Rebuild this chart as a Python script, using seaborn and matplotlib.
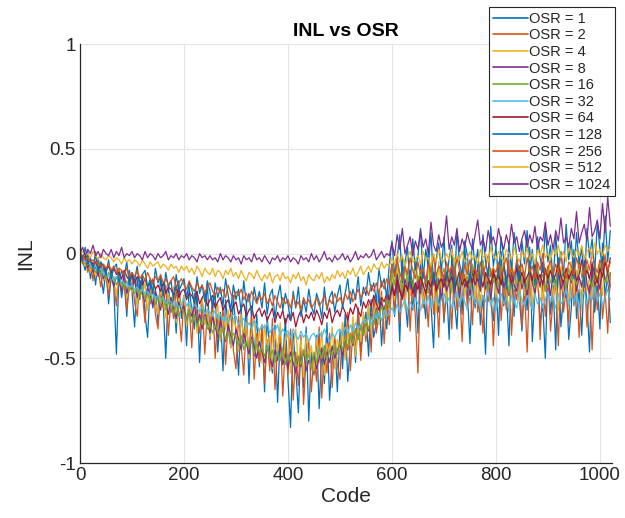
import numpy as np
import pandas as pd
import matplotlib
matplotlib.use("Agg")
import matplotlib.pyplot as plt
import seaborn as sns

# codes 0, 5, ..., 1020 (one every 5 codes)
codes = list(range(0, 1025, 5))

osr_labels = ['OSR = 1', 'OSR = 2', 'OSR = 4', 'OSR = 8', 'OSR = 16', 'OSR = 32',
              'OSR = 64', 'OSR = 128', 'OSR = 256', 'OSR = 512', 'OSR = 1024']

inl_osr1 = [0.02, -0.03, -0.08, 0.01, -0.12, -0.05, -0.15, -0.02, -0.10, -0.19,
            -0.07, -0.24, -0.11, -0.16, -0.48, -0.09, -0.21, -0.13, -0.30, -0.08,
            -0.18, -0.35, -0.12, -0.22, -0.10, -0.29, -0.40, -0.14, -0.26, -0.17,
            -0.33, -0.11, -0.24, -0.50, -0.15, -0.28, -0.19, -0.38, -0.13, -0.31,
            -0.21, -0.44, -0.16, -0.27, -0.36, -0.18, -0.52, -0.23, -0.30, -0.14,
            -0.41, -0.25, -0.19, -0.47, -0.28, -0.56, -0.22, -0.35, -0.45, -0.20,
            -0.38, -0.58, -0.27, -0.43, -0.24, -0.62, -0.33, -0.49, -0.29, -0.54,
            -0.36, -0.66, -0.30, -0.47, -0.57, -0.34, -0.71, -0.40, -0.52, -0.31,
            -0.60, -0.83, -0.38, -0.55, -0.76, -0.42, -0.64, -0.35, -0.80, -0.47,
            -0.58, -0.39, -0.74, -0.46, -0.62, -0.33, -0.70, -0.51, -0.41, -0.66,
            -0.37, -0.55, -0.29, -0.61, -0.43, -0.32, -0.52, -0.26, -0.47, -0.35,
            -0.28, -0.49, -0.22, -0.40, -0.33, -0.18, -0.44, -0.25, -0.36, -0.15,
            -0.05, -0.30, -0.12, -0.42, -0.02, -0.21, -0.35, -0.08, -0.27, -0.14,
            -0.38, -0.04, -0.19, -0.31, 0.02, -0.24, -0.45, -0.10, -0.28, -0.06,
            -0.33, -0.15, -0.41, -0.01, -0.22, -0.36, -0.09, -0.29, 0.04, -0.18,
            -0.43, -0.12, -0.26, -0.05, -0.34, -0.20, -0.48, -0.07, -0.23, -0.32,
            -0.11, -0.39, 0.01, -0.25, -0.16, -0.44, -0.08, -0.30, -0.03, -0.21,
            -0.37, -0.13, -0.27, 0.03, -0.42, -0.18, -0.09, -0.33, -0.24, -0.50,
            -0.06, -0.29, -0.15, -0.46, -0.02, -0.35, -0.20, -0.11, -0.41, -0.26,
            0.02, -0.31, -0.17, -0.39, -0.08, -0.23, -0.47, -0.04, -0.28, -0.13,
            -0.36, 0.05, -0.21, -0.10, -0.33]
inl_osr2 = [0.00, -0.05, -0.02, -0.09, -0.04, -0.13, 0.01, -0.08, -0.16, -0.06,
            -0.11, -0.20, -0.09, -0.14, -0.25, -0.07, -0.18, -0.12, -0.27, -0.15,
            -0.10, -0.23, -0.30, -0.13, -0.19, -0.33, -0.16, -0.24, -0.12, -0.29,
            -0.36, -0.18, -0.26, -0.15, -0.39, -0.21, -0.31, -0.17, -0.28, -0.42,
            -0.20, -0.34, -0.25, -0.45, -0.19, -0.30, -0.38, -0.23, -0.48, -0.27,
            -0.35, -0.22, -0.50, -0.29, -0.41, -0.25, -0.53, -0.33, -0.28, -0.46,
            -0.55, -0.30, -0.44, -0.58, -0.32, -0.49, -0.27, -0.60, -0.38, -0.52,
            -0.34, -0.62, -0.41, -0.56, -0.31, -0.65, -0.45, -0.37, -0.68, -0.43,
            -0.58, -0.36, -0.70, -0.47, -0.63, -0.39, -0.72, -0.50, -0.42, -0.66,
            -0.48, -0.61, -0.35, -0.69, -0.44, -0.57, -0.38, -0.64, -0.40, -0.53,
            -0.60, -0.33, -0.49, -0.28, -0.56, -0.37, -0.45, -0.26, -0.51, -0.31,
            -0.42, -0.24, -0.47, -0.20, -0.38, -0.29, -0.18, -0.43, -0.22, -0.34,
            -0.12, -0.28, -0.06, -0.33, -0.15, -0.24, -0.09, -0.37, -0.13, -0.30,
            -0.57, -0.10, -0.26, -0.17, -0.35, -0.05, -0.29, -0.14, -0.40, -0.08,
            -0.31, -0.19, -0.11, -0.36, -0.07, -0.27, -0.16, -0.42, -0.10, -0.25,
            -0.14, -0.34, -0.04, -0.28, -0.20, -0.38, -0.09, -0.23, -0.13, -0.44,
            -0.18, -0.06, -0.32, -0.12, -0.27, -0.03, -0.39, -0.15, -0.22, -0.08,
            -0.35, -0.16, -0.47, -0.10, -0.26, -0.19, -0.05, -0.41, -0.13, -0.30,
            -0.09, -0.37, -0.21, -0.14, -0.44, -0.07, -0.28, -0.17, -0.33, -0.04,
            -0.25, -0.12, -0.40, -0.19, -0.08, -0.35, -0.15, -0.46, -0.11, -0.27,
            -0.06, -0.31, -0.18, -0.38, -0.09]
inl_osr4 = [0.01, -0.03, -0.06, -0.02, -0.09, -0.05, -0.11, -0.08, -0.04, -0.13,
            -0.10, -0.16, -0.07, -0.14, -0.19, -0.11, -0.17, -0.09, -0.21, -0.13,
            -0.18, -0.12, -0.24, -0.16, -0.20, -0.14, -0.27, -0.19, -0.15, -0.23,
            -0.29, -0.17, -0.22, -0.31, -0.19, -0.26, -0.16, -0.33, -0.21, -0.25,
            -0.20, -0.35, -0.24, -0.29, -0.22, -0.38, -0.27, -0.21, -0.34, -0.26,
            -0.40, -0.28, -0.33, -0.24, -0.42, -0.30, -0.36, -0.27, -0.45, -0.31,
            -0.35, -0.47, -0.29, -0.41, -0.33, -0.50, -0.38, -0.31, -0.46, -0.36,
            -0.52, -0.34, -0.44, -0.39, -0.55, -0.37, -0.48, -0.33, -0.53, -0.42,
            -0.38, -0.57, -0.45, -0.36, -0.54, -0.41, -0.59, -0.39, -0.50, -0.44,
            -0.56, -0.40, -0.52, -0.37, -0.58, -0.43, -0.48, -0.35, -0.55, -0.41,
            -0.46, -0.33, -0.51, -0.38, -0.44, -0.30, -0.49, -0.35, -0.42, -0.28,
            -0.39, -0.25, -0.36, -0.29, -0.22, -0.34, -0.20, -0.31, -0.18, -0.27,
            -0.10, -0.22, -0.05, -0.18, -0.12, -0.26, -0.07, -0.20, -0.14, -0.03,
            -0.19, -0.09, -0.24, -0.13, -0.06, -0.21, -0.11, -0.28, -0.04, -0.17,
            -0.12, -0.23, -0.07, -0.19, -0.02, -0.15, -0.25, -0.10, -0.20, -0.05,
            -0.16, -0.08, -0.22, -0.13, -0.27, -0.04, -0.18, -0.11, -0.24, -0.06,
            -0.21, -0.10, -0.15, -0.01, -0.19, -0.26, -0.08, -0.17, -0.12, -0.23,
            -0.05, -0.20, -0.14, -0.09, -0.25, -0.03, -0.18, -0.11, -0.22, -0.07,
            -0.16, -0.02, -0.21, -0.12, -0.27, -0.06, -0.17, -0.10, -0.23, -0.04,
            -0.19, -0.08, -0.14, -0.24, -0.01, -0.18, -0.11, -0.22, -0.05, -0.15,
            -0.09, -0.20, 0.00, -0.13, -0.17]
inl_osr8 = [0.00, -0.04, -0.02, -0.07, -0.03, -0.09, -0.06, -0.11, -0.05, -0.12,
            -0.09, -0.14, -0.08, -0.16, -0.11, -0.13, -0.18, -0.10, -0.19, -0.14,
            -0.17, -0.12, -0.21, -0.15, -0.19, -0.23, -0.16, -0.20, -0.25, -0.18,
            -0.22, -0.27, -0.19, -0.24, -0.29, -0.21, -0.26, -0.31, -0.23, -0.28,
            -0.25, -0.32, -0.27, -0.30, -0.24, -0.34, -0.29, -0.36, -0.28, -0.33,
            -0.38, -0.30, -0.35, -0.40, -0.32, -0.37, -0.42, -0.34, -0.39, -0.44,
            -0.36, -0.41, -0.46, -0.38, -0.43, -0.48, -0.40, -0.45, -0.50, -0.42,
            -0.47, -0.52, -0.44, -0.49, -0.54, -0.46, -0.51, -0.43, -0.53, -0.48,
            -0.55, -0.47, -0.52, -0.57, -0.49, -0.54, -0.46, -0.56, -0.51, -0.53,
            -0.48, -0.55, -0.50, -0.45, -0.53, -0.47, -0.52, -0.44, -0.50, -0.46,
            -0.43, -0.49, -0.40, -0.46, -0.38, -0.44, -0.36, -0.41, -0.34, -0.39,
            -0.32, -0.37, -0.29, -0.34, -0.26, -0.31, -0.23, -0.28, -0.21, -0.25,
            -0.14, -0.20, -0.10, -0.17, -0.22, -0.12, -0.18, -0.08, -0.15, -0.21,
            -0.11, -0.19, -0.07, -0.16, -0.13, -0.20, -0.09, -0.17, -0.12, -0.22,
            -0.10, -0.18, -0.14, -0.06, -0.19, -0.12, -0.21, -0.09, -0.16, -0.13,
            -0.20, -0.08, -0.15, -0.11, -0.18, -0.05, -0.17, -0.13, -0.22, -0.10,
            -0.14, -0.19, -0.07, -0.16, -0.12, -0.20, -0.09, -0.15, -0.18, -0.06,
            -0.17, -0.11, -0.21, -0.08, -0.14, -0.19, -0.10, -0.16, -0.04, -0.18,
            -0.12, -0.20, -0.09, -0.15, -0.07, -0.17, -0.13, -0.21, -0.10, -0.14,
            -0.06, -0.18, -0.11, -0.16, -0.03, -0.14, -0.19, -0.08, -0.15, -0.12,
            -0.17, -0.05, -0.13, -0.09, -0.16]
inl_osr16 = [0.00, -0.03, -0.05, -0.02, -0.07, -0.06, -0.09, -0.05, -0.10, -0.08,
             -0.12, -0.09, -0.13, -0.11, -0.15, -0.12, -0.14, -0.17, -0.13, -0.18,
             -0.15, -0.19, -0.17, -0.21, -0.16, -0.22, -0.19, -0.23, -0.18, -0.24,
             -0.21, -0.25, -0.20, -0.27, -0.23, -0.26, -0.29, -0.24, -0.30, -0.26,
             -0.28, -0.32, -0.27, -0.33, -0.29, -0.35, -0.31, -0.34, -0.30, -0.36,
             -0.33, -0.38, -0.34, -0.37, -0.40, -0.35, -0.41, -0.37, -0.43, -0.38,
             -0.40, -0.44, -0.39, -0.46, -0.42, -0.45, -0.41, -0.48, -0.43, -0.47,
             -0.45, -0.49, -0.44, -0.50, -0.46, -0.52, -0.47, -0.51, -0.45, -0.53,
             -0.48, -0.52, -0.47, -0.54, -0.49, -0.53, -0.46, -0.51, -0.48, -0.55,
             -0.47, -0.52, -0.45, -0.50, -0.44, -0.51, -0.46, -0.49, -0.43, -0.48,
             -0.42, -0.46, -0.40, -0.45, -0.38, -0.43, -0.36, -0.41, -0.34, -0.39,
             -0.32, -0.36, -0.30, -0.34, -0.27, -0.31, -0.25, -0.29, -0.22, -0.26,
             -0.08, -0.15, -0.02, -0.12, -0.18, -0.06, -0.14, -0.10, -0.17, -0.04,
             -0.13, -0.08, -0.16, -0.11, -0.19, -0.05, -0.14, -0.09, -0.17, -0.12,
             -0.07, -0.15, -0.10, -0.18, -0.06, -0.13, -0.16, -0.08, -0.14, -0.11,
             -0.17, -0.05, -0.12, -0.09, -0.15, -0.03, -0.13, -0.18, -0.07, -0.14,
             -0.10, -0.16, -0.06, -0.13, -0.11, -0.19, -0.04, -0.12, -0.15, -0.08,
             -0.14, -0.09, -0.17, -0.05, -0.12, -0.16, -0.07, -0.13, -0.10, -0.18,
             -0.06, -0.14, -0.11, -0.16, -0.04, -0.12, -0.09, -0.17, -0.07, -0.13,
             -0.10, -0.15, -0.03, -0.11, -0.14, -0.06, -0.12, -0.16, -0.08, -0.13,
             -0.05, -0.11, -0.14, -0.07, -0.12]
inl_osr32 = [0.00, -0.02, -0.04, -0.03, -0.05, -0.07, -0.06, -0.08, -0.07, -0.10,
             -0.09, -0.11, -0.10, -0.13, -0.11, -0.14, -0.12, -0.15, -0.14, -0.16,
             -0.15, -0.17, -0.16, -0.18, -0.17, -0.19, -0.18, -0.20, -0.19, -0.21,
             -0.20, -0.22, -0.21, -0.24, -0.22, -0.23, -0.25, -0.23, -0.26, -0.24,
             -0.21, -0.25, -0.23, -0.27, -0.24, -0.26, -0.28, -0.25, -0.29, -0.27,
             -0.28, -0.30, -0.27, -0.31, -0.29, -0.32, -0.30, -0.33, -0.31, -0.29,
             -0.30, -0.34, -0.32, -0.31, -0.35, -0.33, -0.36, -0.32, -0.34, -0.37,
             -0.34, -0.36, -0.33, -0.38, -0.35, -0.37, -0.34, -0.39, -0.36, -0.38,
             -0.37, -0.40, -0.36, -0.39, -0.41, -0.37, -0.40, -0.38, -0.42, -0.39,
             -0.38, -0.41, -0.37, -0.40, -0.36, -0.39, -0.42, -0.38, -0.40, -0.37,
             -0.36, -0.39, -0.35, -0.38, -0.34, -0.37, -0.33, -0.36, -0.34, -0.32,
             -0.33, -0.30, -0.34, -0.29, -0.31, -0.28, -0.32, -0.27, -0.30, -0.28,
             -0.26, -0.29, -0.24, -0.28, -0.25, -0.22, -0.27, -0.23, -0.26, -0.21,
             -0.24, -0.27, -0.22, -0.25, -0.20, -0.26, -0.23, -0.21, -0.25, -0.22,
             -0.19, -0.24, -0.21, -0.26, -0.22, -0.18, -0.25, -0.20, -0.23, -0.27,
             -0.21, -0.19, -0.24, -0.22, -0.26, -0.20, -0.23, -0.18, -0.25, -0.21,
             -0.27, -0.22, -0.19, -0.24, -0.21, -0.28, -0.20, -0.23, -0.26, -0.18,
             -0.22, -0.25, -0.20, -0.23, -0.27, -0.19, -0.24, -0.21, -0.26, -0.22,
             -0.18, -0.23, -0.21, -0.26, -0.19, -0.24, -0.22, -0.17, -0.25, -0.20,
             -0.23, -0.19, -0.26, -0.21, -0.18, -0.24, -0.20, -0.22, -0.16, -0.23,
             -0.19, -0.25, -0.21, -0.17, -0.22]
inl_osr64 = [0.00, -0.02, -0.01, -0.04, -0.03, -0.05, -0.04, -0.07, -0.05, -0.06,
             -0.08, -0.06, -0.09, -0.07, -0.10, -0.09, -0.12, -0.08, -0.11, -0.13,
             -0.10, -0.14, -0.11, -0.13, -0.15, -0.12, -0.16, -0.14, -0.13, -0.17,
             -0.15, -0.18, -0.14, -0.19, -0.16, -0.17, -0.20, -0.15, -0.21, -0.18,
             -0.17, -0.22, -0.19, -0.20, -0.23, -0.18, -0.24, -0.21, -0.19, -0.25,
             -0.22, -0.20, -0.26, -0.23, -0.21, -0.27, -0.24, -0.22, -0.28, -0.25,
             -0.23, -0.29, -0.26, -0.24, -0.30, -0.27, -0.25, -0.31, -0.28, -0.26,
             -0.30, -0.27, -0.32, -0.29, -0.26, -0.33, -0.28, -0.31, -0.27, -0.34,
             -0.29, -0.32, -0.28, -0.35, -0.30, -0.27, -0.33, -0.29, -0.31, -0.28,
             -0.32, -0.27, -0.30, -0.34, -0.28, -0.31, -0.26, -0.33, -0.29, -0.27,
             -0.30, -0.25, -0.28, -0.32, -0.26, -0.29, -0.24, -0.27, -0.30, -0.23,
             -0.26, -0.22, -0.25, -0.20, -0.24, -0.27, -0.21, -0.23, -0.19, -0.22,
             -0.16, -0.20, -0.13, -0.18, -0.21, -0.15, -0.17, -0.12, -0.19, -0.14,
             -0.17, -0.11, -0.15, -0.19, -0.13, -0.16, -0.10, -0.18, -0.14, -0.12,
             -0.16, -0.09, -0.14, -0.11, -0.17, -0.13, -0.08, -0.15, -0.12, -0.16,
             -0.10, -0.14, -0.07, -0.13, -0.11, -0.16, -0.09, -0.12, -0.15, -0.08,
             -0.13, -0.10, -0.15, -0.06, -0.12, -0.09, -0.14, -0.11, -0.07, -0.13,
             -0.09, -0.14, -0.11, -0.08, -0.13, -0.05, -0.12, -0.10, -0.15, -0.07,
             -0.12, -0.08, -0.13, -0.10, -0.04, -0.11, -0.14, -0.07, -0.12, -0.09,
             -0.06, -0.13, -0.10, -0.03, -0.11, -0.08, -0.12, -0.05, -0.10, -0.14,
             -0.07, -0.11, -0.04, -0.09, -0.02]
inl_osr128 = [0.01, -0.03, 0.03, -0.05, -0.02, -0.07, 0.00, -0.09, -0.04, -0.06,
              -0.10, -0.03, -0.12, -0.07, -0.05, -0.14, -0.08, -0.11, -0.04, -0.15,
              -0.09, -0.13, -0.06, -0.17, -0.10, -0.08, -0.16, -0.12, -0.19, -0.07,
              -0.14, -0.11, -0.20, -0.09, -0.16, -0.13, -0.22, -0.10, -0.18, -0.15,
              -0.12, -0.21, -0.14, -0.17, -0.24, -0.11, -0.19, -0.15, -0.23, -0.13,
              -0.18, -0.26, -0.14, -0.21, -0.16, -0.25, -0.12, -0.20, -0.27, -0.15,
              -0.22, -0.17, -0.28, -0.13, -0.24, -0.19, -0.30, -0.16, -0.23, -0.18,
              -0.26, -0.14, -0.29, -0.20, -0.17, -0.31, -0.21, -0.15, -0.27, -0.19,
              -0.24, -0.32, -0.18, -0.26, -0.16, -0.30, -0.22, -0.28, -0.17, -0.25,
              -0.29, -0.19, -0.23, -0.31, -0.16, -0.27, -0.21, -0.18, -0.28, -0.20,
              -0.15, -0.26, -0.19, -0.12, -0.24, -0.17, -0.22, -0.11, -0.25, -0.16,
              -0.20, -0.09, -0.18, -0.14, -0.23, -0.07, -0.16, -0.12, -0.21, -0.05,
              0.06, -0.10, -0.02, 0.09, -0.14, -0.04, 0.03, -0.17, 0.07, -0.08,
              -0.01, 0.12, -0.12, 0.02, -0.06, 0.10, -0.15, -0.03, 0.05, -0.09,
              0.08, -0.13, -0.02, 0.04, -0.18, 0.11, -0.05, -0.10, 0.06, -0.01,
              -0.14, 0.07, -0.07, 0.02, -0.16, 0.09, -0.04, -0.11, 0.13, -0.06,
              0.03, -0.12, 0.08, -0.03, -0.17, 0.05, -0.08, 0.10, -0.01, -0.13,
              0.06, -0.05, 0.11, -0.10, 0.02, -0.15, 0.08, -0.02, -0.09, 0.12,
              -0.04, 0.04, -0.14, 0.09, -0.07, 0.01, -0.11, 0.14, -0.03, 0.06,
              -0.12, 0.10, -0.05, 0.03, -0.16, 0.12, -0.02, 0.07, -0.09, 0.15,
              0.02, -0.07, 0.18, -0.04, 0.11]
inl_osr256 = [0.00, -0.01, -0.03, -0.02, -0.04, -0.03, -0.05, -0.04, -0.06, -0.05,
              -0.07, -0.05, -0.08, -0.06, -0.09, -0.07, -0.08, -0.10, -0.07, -0.11,
              -0.09, -0.11, -0.08, -0.12, -0.10, -0.13, -0.09, -0.12, -0.14, -0.11,
              -0.13, -0.10, -0.14, -0.12, -0.15, -0.13, -0.11, -0.16, -0.14, -0.12,
              -0.15, -0.17, -0.13, -0.16, -0.18, -0.14, -0.17, -0.15, -0.19, -0.16,
              -0.14, -0.18, -0.20, -0.16, -0.19, -0.17, -0.21, -0.15, -0.19, -0.22,
              -0.18, -0.20, -0.17, -0.22, -0.19, -0.23, -0.18, -0.21, -0.24, -0.20,
              -0.22, -0.19, -0.24, -0.21, -0.25, -0.20, -0.23, -0.26, -0.21, -0.24,
              -0.22, -0.26, -0.20, -0.25, -0.23, -0.27, -0.21, -0.24, -0.22, -0.26,
              -0.24, -0.21, -0.25, -0.23, -0.20, -0.26, -0.22, -0.24, -0.19, -0.23,
              -0.21, -0.24, -0.19, -0.22, -0.18, -0.23, -0.20, -0.17, -0.21, -0.19,
              -0.16, -0.20, -0.15, -0.18, -0.14, -0.19, -0.13, -0.17, -0.12, -0.15,
              -0.05, -0.11, -0.03, -0.09, -0.13, -0.06, -0.10, -0.02, -0.08, -0.12,
              -0.04, -0.10, -0.07, -0.13, -0.05, -0.09, -0.01, -0.11, -0.06, -0.08,
              -0.12, -0.04, -0.09, -0.06, -0.11, -0.02, -0.08, -0.13, -0.05, -0.10,
              -0.03, -0.09, -0.07, -0.12, -0.04, -0.10, -0.06, -0.01, -0.11, -0.07,
              -0.09, -0.04, -0.12, -0.06, -0.02, -0.10, -0.07, -0.11, -0.03, -0.08,
              -0.05, -0.11, -0.02, -0.09, -0.06, -0.12, -0.04, -0.08, 0.00, -0.10,
              -0.07, -0.03, -0.10, -0.05, -0.09, -0.01, -0.08, -0.12, -0.04, -0.06,
              -0.10, -0.02, -0.07, -0.05, -0.11, -0.03, -0.08, 0.01, -0.06, -0.09,
              -0.03, -0.07, -0.01, -0.08, -0.04]
inl_osr512 = [0.00, 0.01, -0.01, 0.00, -0.02, 0.01, -0.01, -0.03, 0.00, -0.02,
              -0.03, -0.01, -0.02, -0.04, -0.02, -0.03, -0.05, -0.02, -0.04, -0.03,
              -0.05, -0.03, -0.04, -0.06, -0.03, -0.05, -0.07, -0.04, -0.06, -0.05,
              -0.04, -0.07, -0.05, -0.06, -0.08, -0.05, -0.07, -0.06, -0.09, -0.06,
              -0.08, -0.06, -0.09, -0.07, -0.10, -0.06, -0.08, -0.11, -0.07, -0.09,
              -0.10, -0.07, -0.11, -0.08, -0.09, -0.12, -0.08, -0.10, -0.07, -0.11,
              -0.09, -0.12, -0.08, -0.11, -0.13, -0.09, -0.10, -0.12, -0.08, -0.11,
              -0.13, -0.10, -0.12, -0.09, -0.14, -0.11, -0.10, -0.13, -0.09, -0.12,
              -0.11, -0.14, -0.10, -0.12, -0.09, -0.13, -0.11, -0.15, -0.10, -0.12,
              -0.13, -0.10, -0.12, -0.09, -0.14, -0.11, -0.13, -0.10, -0.12, -0.08,
              -0.11, -0.09, -0.12, -0.08, -0.10, -0.07, -0.11, -0.09, -0.06, -0.10,
              -0.08, -0.06, -0.09, -0.05, -0.07, -0.08, -0.04, -0.07, -0.05, -0.06,
              -0.02, -0.05, 0.00, -0.04, -0.01, -0.06, -0.02, 0.01, -0.04, -0.03,
              -0.01, -0.05, 0.01, -0.03, -0.02, -0.06, 0.00, -0.04, 0.02, -0.02,
              -0.04, 0.00, -0.03, 0.02, -0.05, -0.01, -0.03, 0.01, -0.04, -0.02,
              0.01, -0.03, -0.01, -0.05, 0.02, -0.02, 0.00, -0.04, 0.03, -0.01,
              -0.03, 0.01, -0.02, -0.04, 0.02, 0.00, -0.03, 0.03, -0.01, -0.04,
              0.01, -0.02, 0.03, -0.03, 0.00, -0.05, 0.02, -0.01, 0.04, -0.02,
              0.00, -0.03, 0.02, -0.01, 0.04, -0.02, 0.01, -0.04, 0.03, 0.00,
              -0.02, 0.02, -0.01, 0.04, -0.03, 0.01, 0.03, -0.02, 0.05, 0.00,
              0.02, -0.01, 0.04, 0.01, 0.03]
inl_osr1024 = [0.00, 0.03, -0.01, 0.02, 0.00, 0.04, -0.01, 0.01, -0.02, 0.02,
               0.00, -0.01, 0.02, -0.02, 0.01, -0.01, 0.03, -0.02, 0.00, -0.01,
               0.01, -0.02, 0.00, -0.01, -0.03, 0.01, -0.02, 0.00, -0.01, -0.03,
               0.00, -0.02, -0.01, 0.01, -0.03, -0.01, -0.02, 0.00, -0.03, -0.01,
               -0.02, 0.00, -0.03, -0.01, -0.02, -0.04, 0.00, -0.02, -0.01, -0.03,
               -0.01, -0.03, -0.02, -0.04, 0.00, -0.03, -0.01, -0.02, -0.04, -0.01,
               -0.03, -0.02, -0.05, -0.01, -0.03, -0.02, -0.04, 0.00, -0.03, -0.02,
               -0.04, -0.01, -0.03, -0.05, -0.02, -0.03, -0.01, -0.04, -0.02, -0.03,
               -0.01, -0.04, -0.02, -0.03, -0.05, -0.01, -0.03, -0.02, -0.04, 0.00,
               -0.03, -0.01, -0.04, -0.02, 0.01, -0.03, -0.02, -0.04, -0.01, -0.03,
               -0.02, 0.00, -0.03, -0.01, -0.04, -0.02, 0.01, -0.03, -0.01, -0.02,
               0.00, -0.02, -0.01, 0.02, -0.03, -0.01, 0.01, -0.02, 0.00, -0.01,
               0.05, -0.01, 0.09, 0.02, 0.12, 0.00, 0.04, 0.08, -0.01, 0.06,
               0.02, 0.11, 0.03, 0.07, 0.00, 0.15, 0.04, 0.01, 0.09, 0.03,
               0.06, 0.18, 0.02, 0.08, 0.04, 0.12, 0.01, 0.07, 0.03, 0.10,
               0.05, 0.02, 0.09, 0.16, 0.04, 0.07, 0.01, 0.11, 0.05, 0.08,
               0.03, 0.12, 0.06, 0.02, 0.09, 0.04, 0.14, 0.05, 0.08, 0.01,
               0.07, 0.11, 0.03, 0.09, 0.05, 0.13, 0.02, 0.08, 0.06, 0.15,
               0.04, 0.09, 0.02, 0.11, 0.06, 0.17, 0.05, 0.08, 0.03, 0.12,
               0.07, 0.20, 0.05, 0.10, 0.14, 0.06, 0.22, 0.08, 0.11, 0.16,
               0.07, 0.24, 0.10, 0.27, 0.13]

series = [inl_osr1, inl_osr2, inl_osr4, inl_osr8, inl_osr16, inl_osr32,
          inl_osr64, inl_osr128, inl_osr256, inl_osr512, inl_osr1024]

# matlab default line colours
palette = ['#0072BD', '#D95319', '#EDB120', '#7E2F8E', '#77AC30', '#4DBEEE',
           '#A2142F', '#0072BD', '#D95319', '#EDB120', '#7E2F8E']

frames = []
for label, vals in zip(osr_labels, series):
    frames.append(pd.DataFrame({'Code': codes, 'INL': vals, 'OSR': label}))
df = pd.concat(frames, ignore_index=True)

sns.set_theme(style="whitegrid")
plt.rcParams['font.family'] = ['Liberation Sans', 'DejaVu Sans']

fig = plt.figure(figsize=(6.25, 5.18), dpi=100)
ax = fig.add_axes([0.128, 0.106, 0.851, 0.809])

sns.lineplot(data=df, x='Code', y='INL', hue='OSR', hue_order=osr_labels,
             palette=palette, estimator=None, sort=False, linewidth=0.9, ax=ax)

ax.set_xlim(0, 1023)
ax.set_ylim(-1, 1)
ax.set_xticks([0, 200, 400, 600, 800, 1000])
ax.set_yticks([-1, -0.5, 0, 0.5, 1])
ax.set_yticklabels(['-1', '-0.5', '0', '0.5', '1'])
ax.grid(True, color='#e3e3e3', linewidth=0.8)
for s in ['top', 'right']:
    ax.spines[s].set_visible(False)
for s in ['left', 'bottom']:
    ax.spines[s].set_color('#262626')
    ax.spines[s].set_linewidth(0.9)
ax.tick_params(axis='both', direction='in', length=3, width=0.8, colors='#262626',
               labelsize=13.5, pad=3)
ax.set_xlabel('Code', fontsize=15, color='#262626', labelpad=2)
ax.set_ylabel('INL', fontsize=15, color='#262626', labelpad=6)
ax.set_title('INL vs OSR', fontsize=14, fontweight='bold', color='black', pad=6)

ax.get_legend().remove()
handles, labels = ax.get_legend_handles_labels()
leg = fig.legend(handles, labels, loc='upper right', bbox_to_anchor=(0.984, 0.986),
                 fontsize=10.5, frameon=True, fancybox=False, framealpha=1,
                 edgecolor='#262626', handlelength=2.4, handletextpad=0.1,
                 labelspacing=0.18, borderpad=0.3, borderaxespad=0)
leg.get_frame().set_linewidth(0.8)
for line in leg.get_lines():
    line.set_linewidth(1.2)

fig.savefig('out.png', dpi=100)
